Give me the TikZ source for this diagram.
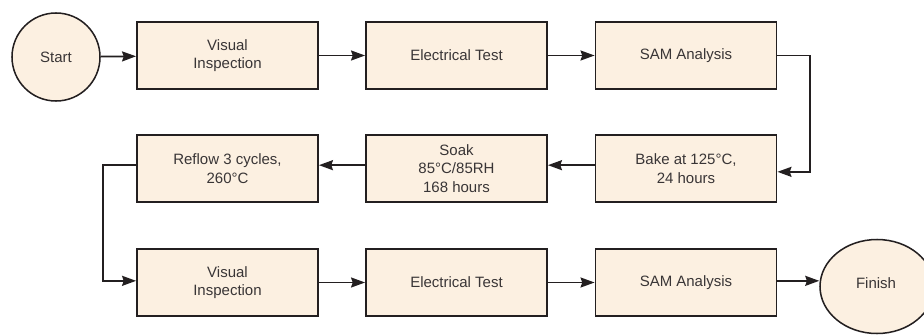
\documentclass[tikz,border=0pt]{standalone}
\usepackage{fontspec}
\setmainfont{Liberation Sans}
\usetikzlibrary{shapes.geometric,arrows.meta}
\definecolor{boxfill}{HTML}{FCF0E1}
\definecolor{boxline}{HTML}{231F20}
\begin{document}
\begin{tikzpicture}[x=0.03cm, y=-0.03cm, >={Stealth[length=0.42cm, width=0.3cm, inset=0.05cm]},
    every node/.style={font=\fontsize{12.8}{15.6}\selectfont, text=boxline!90, align=center},
    stepbox/.style={draw=boxline, line width=1.6pt, fill=boxfill, minimum width=5.43cm, minimum height=2.0cm},
    termcircle/.style={draw=boxline, line width=1.3pt, fill=boxfill, circle, minimum size=2.64cm},
    termellipse/.style={draw=boxline, line width=1.3pt, fill=boxfill, ellipse, minimum width=3.42cm, minimum height=2.82cm},
    flow/.style={->, draw=boxline, line width=1.5pt}]
    \useasboundingbox (0,0) rectangle (924,334);
    \clip (0,0) rectangle (924,334);
    % first row
    \node[termcircle] (start) at (56,57) {Start};
    \node[stepbox] (vis1) at (227.5,55.5) {Visual\\Inspection};
    \node[stepbox] (elec1) at (456.5,55.5) {Electrical Test};
    \node[stepbox] (sam1) at (686,55.5) {SAM Analysis};
    % second row
    \node[stepbox] (bake) at (686,168.5) {Bake at 125°C,\\24 hours};
    \node[stepbox] (soak) at (456.5,168.5) {Soak\\85°C/85RH\\168 hours};
    \node[stepbox] (reflow) at (227.5,168.5) {Reflow 3 cycles,\\260°C};
    % third row
    \node[stepbox] (vis2) at (227.5,282.5) {Visual\\Inspection};
    \node[stepbox] (elec2) at (456.5,282.5) {Electrical Test};
    \node[stepbox] (sam2) at (686,282.5) {SAM Analysis};
    \node[termellipse] (finish) at (877,286.5) {};
    \node at (876,283) {Finish};
    \coordinate (turnr) at (810,0);
    \coordinate (turnl) at (103,0);
    \draw[flow] (start) -- (vis1);
    \draw[flow] (vis1) -- (elec1);
    \draw[flow] (elec1) -- (sam1);
    \draw[flow] (sam1.east) -- (sam1.east -| turnr) -- ([yshift=-0.1cm]bake.east -| turnr) -- ([yshift=-0.1cm]bake.east);
    \draw[flow] ([yshift=0.1cm]bake.west) -- ([yshift=0.1cm]soak.east);
    \draw[flow] ([yshift=0.1cm]soak.west) -- ([yshift=0.1cm]reflow.east);
    \draw[flow] ([yshift=0.1cm]reflow.west) -- ([yshift=0.1cm]reflow.west -| turnl) -- ([yshift=0.05cm]vis2.west -| turnl) -- ([yshift=0.05cm]vis2.west);
    \draw[flow] (vis2) -- (elec2);
    \draw[flow] (elec2) -- (sam2);
    \draw[flow] ([yshift=0.05cm]sam2.east) -- ([yshift=0.05cm]sam2.east -| finish.west);
\end{tikzpicture}
\end{document}
